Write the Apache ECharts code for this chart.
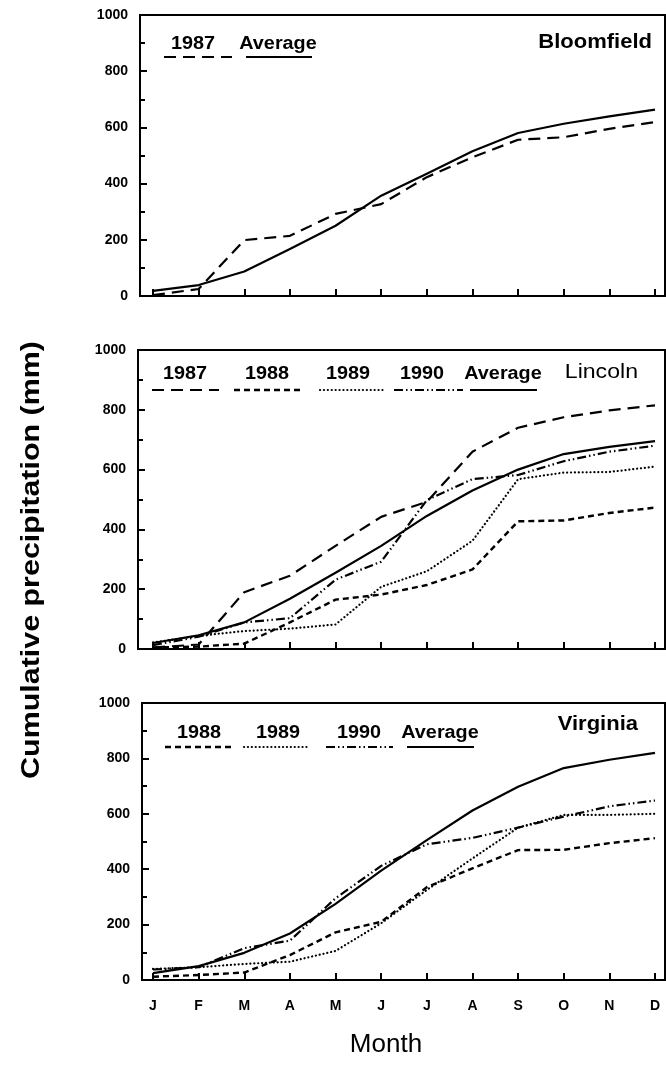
<!DOCTYPE html>
<html>
<head>
<meta charset="utf-8">
<script src="https://cdn.jsdelivr.net/npm/echarts@6/dist/echarts.min.js"></script>
<style>
html,body{margin:0;padding:0;background:#fff;}
#chart{width:666px;height:1071px;}
</style>
</head>
<body>
<div id="chart"></div>
<script>
// ---- data ----
const months = [1,2,3,4,5,6,7,8,9,10,11,12];
const monthLabels = ['J','F','M','A','M','J','J','A','S','O','N','D'];

const bloomfield1987 = [3, 25, 199, 214, 292, 327, 423, 494, 556, 565, 595, 619];
const bloomfieldAvg  = [18, 39, 87, 167, 250, 357, 435, 515, 580, 613, 639, 663];

const lincoln1987 = [5, 15, 190, 245, 345, 442, 492, 660, 740, 775, 798, 815];
const lincoln1988 = [5, 8, 18, 89, 165, 182, 214, 266, 427, 430, 455, 473];
const lincoln1989 = [22, 44, 60, 68, 82, 208, 260, 362, 568, 590, 592, 610];
const lincoln1990 = [13, 41, 89, 103, 232, 292, 498, 568, 582, 628, 660, 680];
const lincolnAvg  = [20, 46, 89, 168, 255, 345, 445, 530, 600, 652, 676, 695];

const virginia1988 = [12, 18, 27, 90, 172, 210, 335, 403, 469, 470, 494, 512];
const virginia1989 = [40, 46, 58, 66, 105, 205, 325, 439, 550, 596, 596, 600];
const virginia1990 = [38, 46, 115, 142, 295, 412, 490, 513, 550, 590, 627, 648];
const virginiaAvg  = [25, 50, 98, 168, 275, 395, 505, 612, 698, 765, 795, 820];

const yMin = 0, yMax = 1000, yStep = 200;

// ---- styles ----
const FONT = '"Liberation Sans", Arial, sans-serif';
const styles = {
  y1987: {type:[12,7], width:2.2, cap:'butt'},
  y1988: {type:[6,4], width:2.4, cap:'butt'},
  y1989: {type:[0.1,3.8], width:2.2, cap:'round'},
  y1990: {type:[9,3,1.5,3,1.5,3], width:2.2, cap:'butt'},
  avg:   {type:'solid', width:2.2, cap:'butt'}
};

const panels = [
  {left:140, top:15,  height:281},
  {left:138, top:350, height:299},
  {left:142, top:703, height:277}
];
const RIGHT_EDGE = 665, X_J = 153, X_D = 655;
const pxPerMonth = (X_D - X_J) / 11;

const grids = [], xAxes = [], yAxes = [];
panels.forEach((p, i) => {
  grids.push({left:p.left, top:p.top, width:RIGHT_EDGE - p.left, height:p.height,
    show:true, borderColor:'#000', borderWidth:2, backgroundColor:'transparent', containLabel:false});
  xAxes.push({
    type:'value', gridIndex:i,
    min: 1 - (X_J - p.left)/pxPerMonth,
    max: 12 + (RIGHT_EDGE - X_D)/pxPerMonth,
    axisLine:{show:true, onZero:false, lineStyle:{color:'#000', width:2}},
    axisTick:{show:true, inside:true, length:7, customValues:months, lineStyle:{color:'#000', width:2}},
    axisLabel:{show:i===2, customValues:months, margin:19,
      formatter:(v)=>monthLabels[Math.round(v)-1] || '',
      color:'#000', fontFamily:FONT, fontWeight:'bold', fontSize:14},
    splitLine:{show:false}
  });
  yAxes.push({
    type:'value', gridIndex:i, min:yMin, max:yMax, interval:yStep,
    axisLine:{show:true, lineStyle:{color:'#000', width:2}},
    axisTick:{show:true, inside:true, length:7, lineStyle:{color:'#000', width:2}},
    minorTick:{show:true, splitNumber:2, length:5, lineStyle:{color:'#000', width:2}},
    axisLabel:{color:'#000', fontFamily:FONT, fontWeight:'bold', fontSize:14, margin:12,
      formatter:(v)=>String(v)},
    splitLine:{show:false}
  });
});

function mk(values, style, gi){
  return {type:'line', xAxisIndex:gi, yAxisIndex:gi, symbol:'none', silent:true,
    data: months.map((m,k)=>[m, values[k]]),
    lineStyle:{color:'#000', width:style.width, type:style.type, cap:style.cap, join:'round'}};
}

const series = [
  mk(bloomfield1987, styles.y1987, 0),
  mk(bloomfieldAvg, styles.avg, 0),
  mk(lincoln1987, styles.y1987, 1),
  mk(lincoln1988, styles.y1988, 1),
  mk(lincoln1989, styles.y1989, 1),
  mk(lincoln1990, styles.y1990, 1),
  mk(lincolnAvg, styles.avg, 1),
  mk(virginia1988, styles.y1988, 2),
  mk(virginia1989, styles.y1989, 2),
  mk(virginia1990, styles.y1990, 2),
  mk(virginiaAvg, styles.avg, 2)
];

// ---- legend-like annotations ----
const graphics = [];
function txt(x, y, s, size, weight, align, sx){
  const a = align || 'center';
  graphics.push({type:'text', x:x, y:y, scaleX: sx || 1, originX:0, originY:0,
    style:{text:s, fill:'#000', font: (weight||'bold') + ' ' + size + 'px ' + FONT,
    textAlign: a, textVerticalAlign:'middle'}});
}
function sample(x1, x2, y, style){
  graphics.push({type:'line', shape:{x1:x1, y1:y, x2:x2, y2:y},
    style:{stroke:'#000', lineWidth:style.width, lineDash: Array.isArray(style.type)?style.type:null, lineCap:style.cap}});
}
const LS = 18, LX = 1.1;
// Bloomfield
txt(193, 44, '1987', LS, 'bold', 'center', LX); sample(164, 232, 57, styles.y1987);
txt(278, 44, 'Average', LS, 'bold', 'center', LX); sample(246, 312, 57, styles.avg);
txt(652, 42, 'Bloomfield', 20, 'bold', 'right', 1.1);
// Lincoln
txt(185, 374, '1987', LS, 'bold', 'center', LX); sample(152, 219, 390, styles.y1987);
txt(267, 374, '1988', LS, 'bold', 'center', LX); sample(234, 302, 390, styles.y1988);
txt(348, 374, '1989', LS, 'bold', 'center', LX); sample(320, 385, 390, styles.y1989);
txt(422, 374, '1990', LS, 'bold', 'center', LX); sample(394, 463, 390, styles.y1990);
txt(503, 374, 'Average', LS, 'bold', 'center', LX); sample(470, 537, 390, styles.avg);
txt(638, 372, 'Lincoln', 21, 'normal', 'right', 1.1);
// Virginia
txt(199, 733, '1988', LS, 'bold', 'center', LX); sample(165, 232, 747, styles.y1988);
txt(278, 733, '1989', LS, 'bold', 'center', LX); sample(244, 309, 747, styles.y1989);
txt(359, 733, '1990', LS, 'bold', 'center', LX); sample(326, 393, 747, styles.y1990);
txt(440, 733, 'Average', LS, 'bold', 'center', LX); sample(407, 474, 747, styles.avg);
txt(638, 724, 'Virginia', 20, 'bold', 'right', 1.1);
// axis titles
graphics.push({type:'text', x:32, y:560, rotation:Math.PI/2, scaleX:1.17,
  style:{text:'Cumulative precipitation (mm)', fill:'#000', font:'bold 26px ' + FONT, textAlign:'center', textVerticalAlign:'middle'}});
txt(386, 1045, 'Month', 26, 'normal', 'center', 1);

const chart = echarts.init(document.getElementById('chart'), null, {renderer:'canvas'});
chart.setOption({
  animation:false,
  backgroundColor:'#fff',
  grid:grids, xAxis:xAxes, yAxis:yAxes, series:series, graphic:graphics
});
</script>
</body>
</html>
